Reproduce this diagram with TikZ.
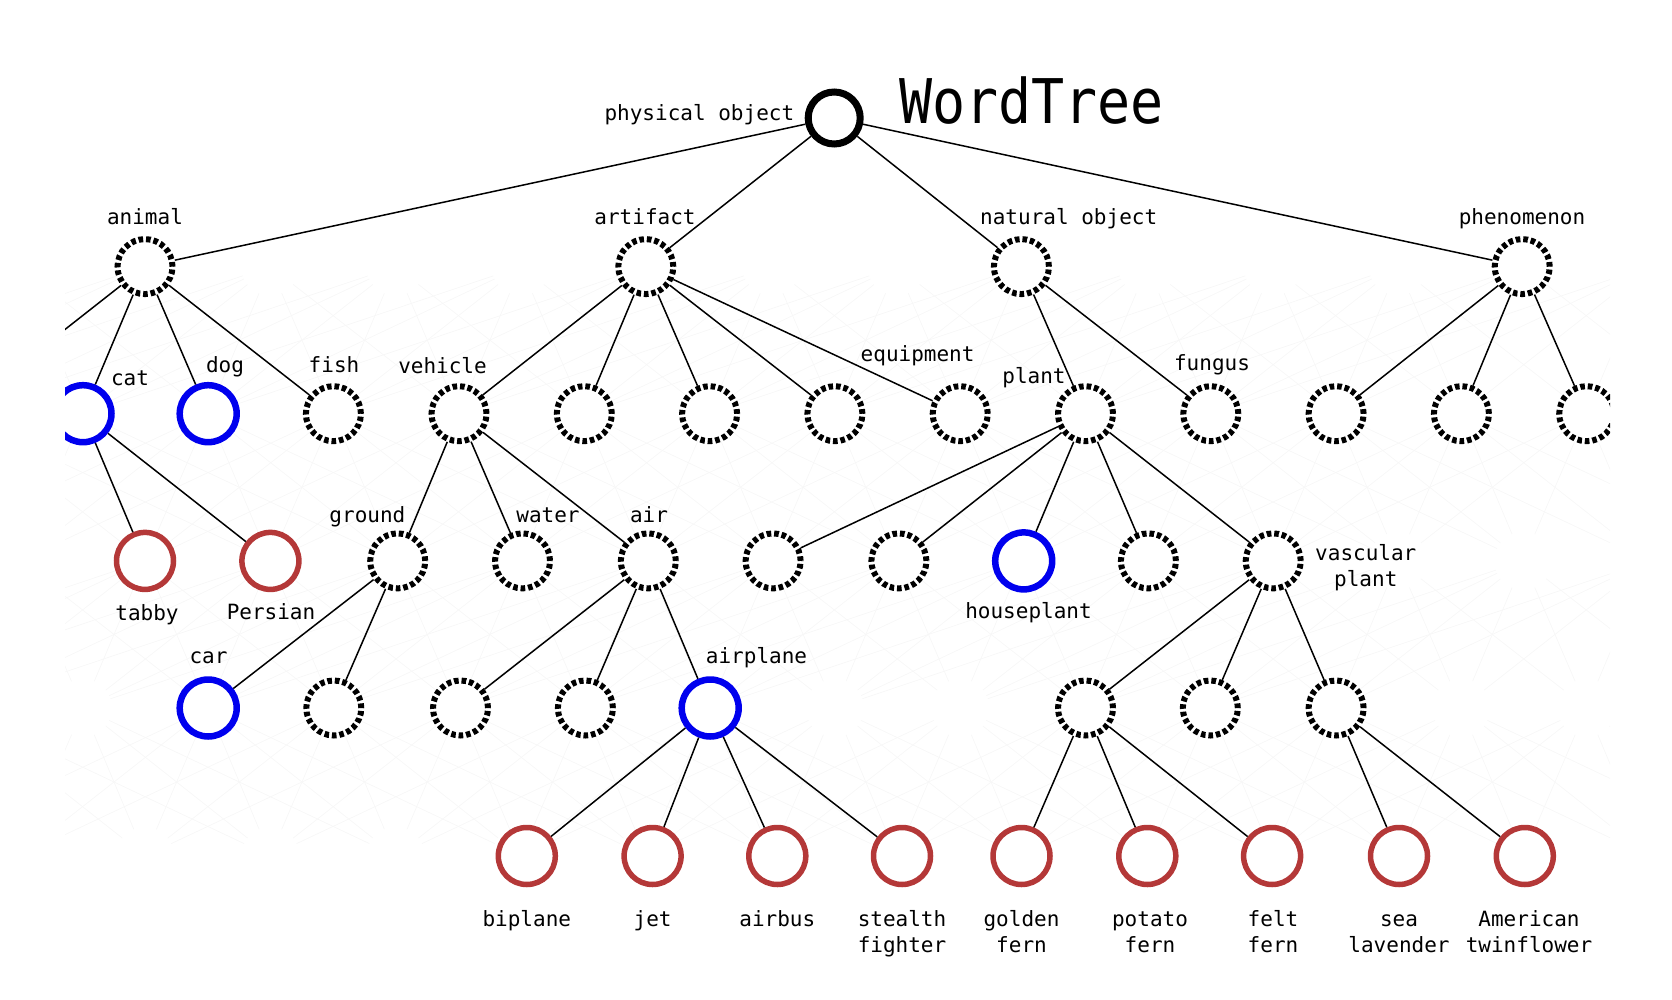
\documentclass[tikz,border=0pt]{standalone}
\usepackage{fontspec}
\setmonofont{DejaVu Sans Mono}
\usepackage{graphicx}
\definecolor{blueC}{RGB}{0,0,238}
\definecolor{redC}{RGB}{180,56,56}
\newcommand\lblfont{\ttfamily\fontsize{21}{26}\selectfont}
\begin{document}
\begin{tikzpicture}[x=1pt,y=-1pt,
  dnode/.style={circle, draw=black, fill=white, line width=6pt, dash pattern=on 4.6pt off 2.9pt, minimum size=55pt, inner sep=0pt},
  bnode/.style={circle, draw=blueC, fill=white, line width=6.5pt, minimum size=57pt, inner sep=0pt},
  rnode/.style={circle, draw=redC, fill=white, line width=5.5pt, minimum size=57pt, inner sep=0pt},
  rootnode/.style={circle, draw=black, fill=white, line width=7pt, minimum size=52pt, inner sep=0pt},
  lbl/.style={font=\lblfont, inner sep=0pt},
  lbltwo/.style={font=\lblfont, inner sep=0pt, align=center},
  edge/.style={line width=1.5pt, black},
  ghost/.style={line width=0.7pt, black!3, shorten <=29pt, shorten >=29pt}]
\useasboundingbox (0,0) rectangle (1672,1000);
\begin{scope}
\clip (65,0) rectangle (1610,1000);
% faint background connections
\foreach \ya/\yb/\xo/\xt in {266.6/413.7/145/83, 413.7/560.9/83/145, 560.9/708/145/83, 708/856/83/145} {
  \foreach \i in {-1,...,12} {
    \foreach \d in {-2,...,3} {
      \draw[ghost] ({\xo+125.3*\i},\ya) -- ({\xt+125.3*(\i+\d-1)},\yb);
    }
  }
}
% level 0
\node[rootnode] (root) at (834.2,118) {};
% level 1
\node[dnode] (animal)   at (145,266.6) {};
\node[dnode] (artifact) at (645.8,266.6) {};
\node[dnode] (natobj)   at (1021.4,266.6) {};
\node[dnode] (phen)     at (1522.2,266.6) {};
% level 2
\node[dnode] (anm0)    at (-42.2,413.7) {};
\node[bnode] (cat)     at (83,413.7) {};
\node[bnode] (dog)     at (208.2,413.7) {};
\node[dnode] (fish)    at (333.4,413.7) {};
\node[dnode] (vehicle) at (459,413.7) {};
\node[dnode] (art2)    at (584.3,413.7) {};
\node[dnode] (art3)    at (709.6,413.7) {};
\node[dnode] (art4)    at (834.9,413.7) {};
\node[dnode] (equip)   at (960.2,413.7) {};
\node[dnode] (plant)   at (1085.5,413.7) {};
\node[dnode] (fungus)  at (1210.8,413.7) {};
\node[dnode] (ph1)     at (1336.1,413.7) {};
\node[dnode] (ph2)     at (1461.4,413.7) {};
\node[dnode] (ph3)     at (1586.7,413.7) {};
% level 3
\node[rnode] (tabby)   at (145,560.9) {};
\node[rnode] (persian) at (270.4,560.9) {};
\node[dnode] (ground)  at (397.7,560.9) {};
\node[dnode] (water)   at (522.5,560.9) {};
\node[dnode] (air)     at (648.3,560.9) {};
\node[dnode] (pl1)     at (773.1,560.9) {};
\node[dnode] (pl2)     at (898.9,560.9) {};
\node[bnode] (house)   at (1023.7,560.9) {};
\node[dnode] (pl4)     at (1148.4,560.9) {};
\node[dnode] (vasc)    at (1273.2,560.9) {};
% level 4
\node[bnode] (car)      at (208.2,708) {};
\node[dnode] (gr2)      at (333.8,708) {};
\node[dnode] (air1)     at (460.5,708) {};
\node[dnode] (air2)     at (585.4,708) {};
\node[bnode] (airplane) at (710.2,708) {};
\node[dnode] (va1)      at (1085.5,708) {};
\node[dnode] (va2)      at (1210.3,708) {};
\node[dnode] (va3)      at (1336.1,708) {};
% level 5
\node[rnode] (biplane) at (526.8,856) {};
\node[rnode] (jet)     at (652.6,856) {};
\node[rnode] (airbus)  at (777.3,856) {};
\node[rnode] (stealth) at (902,856) {};
\node[rnode] (golden)  at (1021.5,856) {};
\node[rnode] (potato)  at (1147.3,856) {};
\node[rnode] (felt)    at (1272.1,856) {};
\node[rnode] (sea)     at (1399,856) {};
\node[rnode] (amer)    at (1524.8,856) {};
% connectors
\foreach \a/\b in {root/animal, root/artifact, root/natobj, root/phen,
  animal/anm0, animal/cat, animal/dog, animal/fish,
  artifact/vehicle, artifact/art2, artifact/art3, artifact/art4, artifact/equip,
  natobj/plant, natobj/fungus,
  phen/ph1, phen/ph2, phen/ph3,
  cat/tabby, cat/persian,
  vehicle/ground, vehicle/water, vehicle/air,
  plant/pl1, plant/pl2, plant/house, plant/pl4, plant/vasc,
  ground/car, ground/gr2,
  air/air1, air/air2, air/airplane,
  vasc/va1, vasc/va2, vasc/va3,
  airplane/biplane, airplane/jet, airplane/airbus, airplane/stealth,
  va1/golden, va1/potato, va1/felt,
  va3/sea, va3/amer}
  \draw[edge] (\a) -- (\b);
\end{scope}
% labels
\node[lbl, anchor=base west] (ttl) at (899,124) {\fontsize{55}{60}\selectfont\scalebox{1}[1.12]{WordTree}};
\node[lbl, anchor=base east] (lroot) at (794.4,120.5) {physical object};
\node[lbl, anchor=base] (lanimal) at (145,225) {animal};
\node[lbl, anchor=base] (lartifact) at (645,225) {artifact};
\node[lbl, anchor=base west] (lnatobj) at (980,225) {natural object};
\node[lbl, anchor=base] (lphen) at (1522,225) {phenomenon};
\node[lbl, anchor=base] (lcat) at (130,385) {cat};
\node[lbl, anchor=base] (ldog) at (225,372) {dog};
\node[lbl, anchor=base] (lfish) at (334,372) {fish};
\node[lbl, anchor=base] (lvehicle) at (442.5,373) {vehicle};
\node[lbl, anchor=base] (lequip) at (917.6,361) {equipment};
\node[lbl, anchor=base] (lplant) at (1034,383) {plant};
\node[lbl, anchor=base] (lfungus) at (1212,370) {fungus};
\node[lbl, anchor=base] (ltabby) at (147,620) {tabby};
\node[lbl, anchor=base] (lpersian) at (271,619) {Persian};
\node[lbl, anchor=base] (lground) at (367.4,522) {ground};
\node[lbl, anchor=base] (lwater) at (548,522) {water};
\node[lbl, anchor=base] (lair) at (649,522) {air};
\node[lbl, anchor=base] (lhouse) at (1028.5,618) {houseplant};
\node[lbltwo, anchor=north west] (lvasc) at (1315,541.8) {\strut vascular\\\strut plant};
\node[lbl, anchor=base] (lcar) at (208.5,663) {car};
\node[lbl, anchor=base] (lairplane) at (756.5,663) {airplane};
\foreach \n/\x/\t in {biplane/526.8/biplane, jet/652.6/jet, airbus/777.3/airbus,
  stealth/902/{stealth\\\strut fighter}, golden/1021.5/{golden\\\strut fern},
  potato/1150/{potato\\\strut fern}, felt/1273/{felt\\\strut fern},
  sea/1399/{sea\\\strut lavender}, amer/1529/{American\\\strut twinflower}}
  \node[lbltwo, anchor=north] (l\n) at (\x,908.3) {\strut\t};
\end{tikzpicture}
\end{document}
